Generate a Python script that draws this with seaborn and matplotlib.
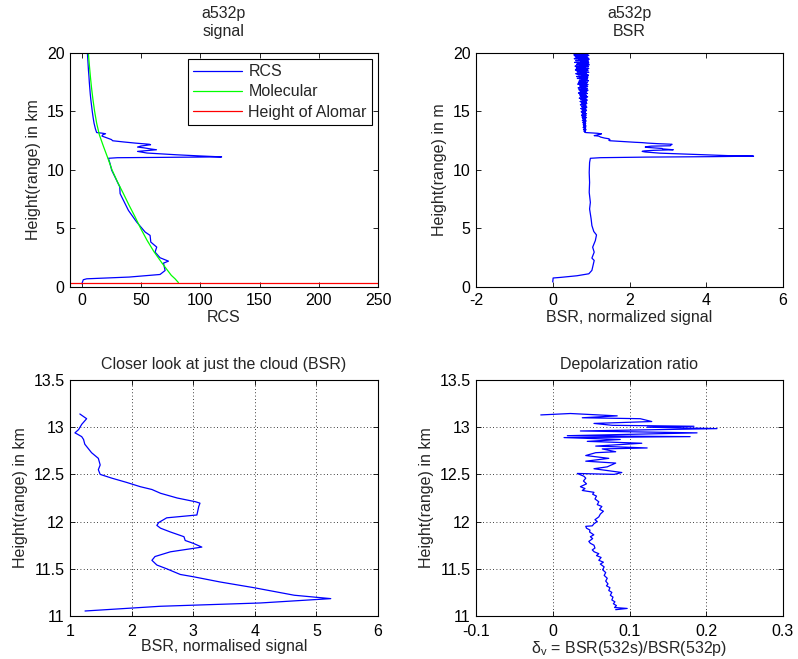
import numpy as np
import pandas as pd
import seaborn as sns
import matplotlib.pyplot as plt

# ---------------- data ----------------
# top-left: range corrected signal (RCS) vs height [km]
rcs_height = [0.27, 0.62, 0.70, 0.85, 1.07, 1.41, 2.04, 2.21, 2.50, 2.98, 3.41, 3.84, 4.41,
              4.70, 5.55, 6.55, 7.98, 8.55, 9.40, 9.98, 10.55, 11.00,
              11.05, 11.12, 11.20, 11.30, 11.45, 11.59, 11.66, 11.73, 11.80, 11.90, 11.96,
              12.05, 12.16, 12.20, 12.30, 12.40, 12.50, 12.60, 12.75, 12.90, 13.00, 13.10, 13.15,
              13.20, 13.50, 14.00, 14.50, 15.00, 15.50, 16.00, 16.50, 17.00, 17.50, 18.00,
              18.50, 19.00, 19.50, 20.00]
rcs_value = [0.0, 1.2, 4.1, 40.0, 66.0, 70.3, 68.9, 73.1, 66.0, 61.8, 63.2, 58.2, 57.6,
             53.4, 46.3, 39.3, 32.3, 32.0, 28.0, 25.2, 23.8, 22.4,
             30.0, 118.0, 100.0, 80.0, 55.0, 47.0, 55.0, 63.0, 58.0, 52.0, 47.0,
             50.0, 58.0, 57.0, 45.0, 35.0, 26.0, 25.0, 21.0, 17.0, 17.5, 20.0, 17.0,
             12.5, 11.5, 10.3, 9.5, 8.8, 8.2, 7.6, 7.1, 6.7, 6.3, 6.0,
             5.6, 5.3, 5.0, 4.7]

mol_height = [0.38, 0.7, 1, 2, 3, 4, 5, 6, 7, 8, 9, 10, 11, 12, 13, 14, 15, 16, 17, 18, 19, 20]
mol_value = [81.5, 78.7, 75.5, 68.0, 61.0, 55.0, 49.7, 44.9, 39.8, 35.0, 30.0, 25.5, 22.0,
             18.3, 14.8, 12.5, 10.8, 9.4, 8.2, 7.2, 6.3, 5.5]

alomar_height = 0.38

# top-right: BSR below the cloud
bsr_low_height = [0.43, 0.77, 0.82, 0.96, 1.13, 1.42, 1.84, 2.27, 2.47, 2.98, 3.40, 3.97, 4.45,
                  4.74, 5.25, 5.82, 6.67, 7.23, 8.09, 8.94, 9.79, 10.64, 11.00]
bsr_low_value = [0.0, 0.01, 0.2, 0.63, 0.94, 1.02, 1.05, 1.08, 1.02, 1.08, 1.04, 1.11, 1.14,
                 1.07, 1.02, 1.0, 0.96, 0.98, 0.95, 0.96, 0.95, 0.96, 0.98]

# cloud (bottom-left close-up, also part of top-right profile)
cloud_height = [11.053, 11.103, 11.138, 11.184, 11.22, 11.30, 11.36, 11.415, 11.44, 11.50, 11.54,
                11.59, 11.63, 11.68, 11.73, 11.77, 11.80, 11.84, 11.89, 11.93, 11.96, 11.99,
                12.04, 12.07, 12.16, 12.195, 12.21, 12.25, 12.30, 12.34, 12.37, 12.415, 12.46,
                12.50, 12.55, 12.60, 12.67, 12.73, 12.82, 12.87, 12.90, 12.93, 12.94, 12.975,
                13.03, 13.09, 13.14]
cloud_bsr = [1.244, 2.465, 4.09, 5.233, 4.64, 3.985, 3.44, 3.01, 2.79, 2.57, 2.41,
             2.33, 2.38, 2.63, 3.14, 3.0, 2.87, 2.85, 2.63, 2.47, 2.41, 2.44,
             2.57, 3.06, 3.09, 3.11, 3.04, 2.74, 2.47, 2.33, 2.14, 1.92, 1.68,
             1.49, 1.46, 1.49, 1.46, 1.35, 1.24, 1.22, 1.19, 1.11, 1.08, 1.14,
             1.19, 1.27, 1.16]

# top-right: noisy BSR above the cloud (13.2 - 20 km)
bsr_high_value = [0.86, 0.83, 0.85, 0.81, 0.84, 0.82, 0.87, 0.80, 0.85, 0.83,
                  0.86, 0.79, 0.84, 0.82, 0.87, 0.80, 0.83, 0.85, 0.79, 0.86,
                  0.81, 0.84, 0.78, 0.86, 0.82,
                  0.87, 0.77, 0.84, 0.80, 0.86, 0.78, 0.83, 0.88, 0.76, 0.85,
                  0.81, 0.87, 0.75, 0.84, 0.79, 0.88, 0.77, 0.85, 0.82, 0.74,
                  0.86, 0.80, 0.88, 0.76, 0.83, 0.87, 0.73, 0.85, 0.79, 0.89,
                  0.75, 0.84, 0.81, 0.87, 0.72, 0.86, 0.78, 0.89, 0.74, 0.83,
                  0.88, 0.71, 0.85, 0.79, 0.90, 0.73, 0.84, 0.87, 0.69, 0.86,
                  0.76, 0.91, 0.72, 0.83, 0.88, 0.70, 0.85, 0.78, 0.90, 0.67,
                  0.86, 0.74, 0.89, 0.71, 0.84, 0.92, 0.68, 0.87, 0.77, 0.90,
                  0.66, 0.85, 0.73, 0.91, 0.70, 0.88, 0.75, 0.92, 0.65, 0.86,
                  0.79, 0.90, 0.67, 0.84, 0.72, 0.93, 0.69, 0.87, 0.76, 0.91,
                  0.64, 0.88, 0.71, 0.92, 0.62, 0.85, 0.77, 0.93, 0.66, 0.89,
                  0.60, 0.87, 0.73, 0.94, 0.63, 0.86, 0.70, 0.92, 0.59, 0.90,
                  0.75, 0.94, 0.61, 0.85, 0.68, 0.93, 0.58, 0.89, 0.72, 0.95,
                  0.62, 0.87, 0.66, 0.94, 0.57, 0.91, 0.74, 0.93, 0.60, 0.86,
                  0.69, 0.95, 0.56, 0.90, 0.64, 0.92, 0.58, 0.88, 0.71, 0.94,
                  0.55, 0.89, 0.63, 0.93, 0.80]
bsr_high_height = np.linspace(13.2, 20.0, len(bsr_high_value))  # range gates

# bottom-right: depolarization ratio in the cloud
depol_height = [11.067, 11.08, 11.09, 11.11, 11.13, 11.15, 11.17, 11.20, 11.22, 11.25, 11.27, 11.30,
                11.32, 11.34, 11.37, 11.40, 11.43, 11.46, 11.49, 11.52, 11.55, 11.57, 11.59, 11.62,
                11.64, 11.66, 11.68, 11.70, 11.72, 11.75, 11.77, 11.79, 11.82, 11.84, 11.86, 11.89,
                11.91, 11.93, 11.95, 11.955, 11.98, 12.00, 12.02, 12.05, 12.08, 12.11, 12.13, 12.16,
                12.18, 12.21, 12.24, 12.27, 12.29, 12.31, 12.33, 12.35, 12.37, 12.40, 12.43, 12.46,
                12.48, 12.51,
                12.50, 12.52, 12.56, 12.58, 12.62, 12.64, 12.67, 12.70, 12.73, 12.74, 12.77, 12.78,
                12.80, 12.83, 12.85, 12.87, 12.89, 12.90, 12.91, 12.94, 12.96, 12.985, 13.00, 13.01,
                13.02, 13.04, 13.06, 13.09, 13.10, 13.12, 13.145, 13.13]
depol_value = [0.082, 0.097, 0.0805, 0.083, 0.079, 0.081, 0.077, 0.0785, 0.075, 0.077, 0.073, 0.0745,
               0.070, 0.072, 0.069, 0.071, 0.067, 0.069, 0.065, 0.067, 0.062, 0.066, 0.060, 0.063,
               0.057, 0.060, 0.054, 0.0515, 0.055, 0.0537, 0.049, 0.047, 0.052, 0.049, 0.0535, 0.048,
               0.0485, 0.044, 0.043, 0.0515, 0.054, 0.058, 0.055, 0.060, 0.062, 0.066, 0.061, 0.064,
               0.058, 0.060, 0.055, 0.057, 0.052, 0.0537, 0.0385, 0.042, 0.036, 0.044, 0.040, 0.043,
               0.0407, 0.032,
               0.080, 0.090, 0.0537, 0.071, 0.082, 0.043, 0.073, 0.043, 0.056, 0.082, 0.0645, 0.123,
               0.056, 0.116, 0.045, 0.088, 0.0147, 0.179, 0.019, 0.188, 0.036, 0.214, 0.123, 0.184,
               0.0775, 0.0537, 0.129, 0.114, 0.0385, 0.084, 0.023, -0.0156]

# ---------------- style ----------------
sns.set_style("ticks", {"xtick.direction": "in", "ytick.direction": "in"})
plt.rcParams["font.family"] = ["Liberation Sans", "DejaVu Sans"]
plt.rcParams["font.size"] = 11.5
plt.rcParams["axes.unicode_minus"] = False
plt.rcParams["xtick.top"] = True
plt.rcParams["ytick.right"] = True
plt.rcParams["axes.edgecolor"] = "black"
plt.rcParams["axes.linewidth"] = 0.8
plt.rcParams["xtick.color"] = "black"
plt.rcParams["ytick.color"] = "black"

fs = 11.5
fig = plt.figure(figsize=(7.98, 6.59), dpi=100)
W, H = 798, 659
ax1 = fig.add_axes([70 / W, 1 - 287 / H, 308 / W, 234 / H])
ax2 = fig.add_axes([476 / W, 1 - 287 / H, 307 / W, 234 / H])
ax3 = fig.add_axes([70 / W, 1 - 616 / H, 308 / W, 236 / H])
ax4 = fig.add_axes([476 / W, 1 - 616 / H, 307 / W, 236 / H])

lw = 0.9
blue, green, red = (0, 0, 1), (0, 1, 0), (1, 0, 0)

# panel 1
sns.lineplot(x=rcs_value, y=rcs_height, sort=False, estimator=None, color=blue, lw=lw, ax=ax1, label="RCS")
sns.lineplot(x=mol_value, y=mol_height, sort=False, estimator=None, color=green, lw=lw, ax=ax1, label="Molecular")
ax1.axhline(alomar_height, color=red, lw=lw, label="Height of Alomar")
ax1.set_xlim(-10, 250)
ax1.set_ylim(0, 20)
ax1.set_xticks([0, 50, 100, 150, 200, 250])
ax1.set_yticks([0, 5, 10, 15, 20])
ax1.set_title("a532p\nsignal", fontsize=fs, pad=12.5)
ax1.set_xlabel("RCS", fontsize=fs, labelpad=2)
ax1.set_ylabel("Height(range) in km", fontsize=fs)
leg = ax1.legend(loc="upper right", fancybox=False, edgecolor="black", framealpha=1,
                 handlelength=3.1, handletextpad=0.4, labelspacing=0.33,
                 borderaxespad=0.4, borderpad=0.3, fontsize=fs)
leg.get_frame().set_linewidth(0.8)

# panel 2
bsr_height = list(bsr_low_height) + list(cloud_height) + list(bsr_high_height)
bsr_value = list(bsr_low_value) + list(cloud_bsr) + list(bsr_high_value)
sns.lineplot(x=bsr_value, y=bsr_height, sort=False, estimator=None, color=blue, lw=lw, ax=ax2)
ax2.set_xlim(-2, 6)
ax2.set_ylim(0, 20)
ax2.set_xticks([-2, 0, 2, 4, 6])
ax2.set_yticks([0, 5, 10, 15, 20])
ax2.set_title("a532p\nBSR", fontsize=fs, pad=12.5)
ax2.set_xlabel("BSR, normalized signal", fontsize=fs, labelpad=2)
ax2.set_ylabel("Height(range) in m", fontsize=fs)

# panel 3
sns.lineplot(x=cloud_bsr, y=cloud_height, sort=False, estimator=None, color=blue, lw=lw, ax=ax3)
ax3.set_xlim(1, 6)
ax3.set_ylim(11, 13.5)
ax3.set_xticks([1, 2, 3, 4, 5, 6])
ax3.set_yticks([11, 11.5, 12, 12.5, 13, 13.5])
ax3.set_yticklabels(["11", "11.5", "12", "12.5", "13", "13.5"])
ax3.set_title("Closer look at just the cloud (BSR)", fontsize=fs, pad=8)
ax3.set_xlabel("BSR, normalised signal", fontsize=fs, labelpad=0.5)
ax3.set_ylabel("Height(range) in km", fontsize=fs)

# panel 4
sns.lineplot(x=depol_value, y=depol_height, sort=False, estimator=None, color=blue, lw=lw, ax=ax4)
ax4.set_xlim(-0.1, 0.3)
ax4.set_ylim(11, 13.5)
ax4.set_xticks([-0.1, 0, 0.1, 0.2, 0.3])
ax4.set_xticklabels(["-0.1", "0", "0.1", "0.2", "0.3"])
ax4.set_yticks([11, 11.5, 12, 12.5, 13, 13.5])
ax4.set_yticklabels(["11", "11.5", "12", "12.5", "13", "13.5"])
ax4.set_title("Depolarization ratio", fontsize=fs, pad=8)
ax4.set_xlabel(r"$\mathregular{\delta_v}$ = BSR(532s)/BSR(532p)", fontsize=fs, labelpad=0)
ax4.set_ylabel("Height(range) in km", fontsize=fs)

for ax in (ax3, ax4):
    ax.grid(True, color="black", linestyle=(0, (1, 3)), linewidth=0.6)

for ax in (ax1, ax2, ax3, ax4):
    for s in ax.spines.values():
        s.set_visible(True)
        s.set_color("black")
    ax.tick_params(axis="x", length=3.5, width=0.6, labelsize=fs, pad=4)
    ax.tick_params(axis="y", length=3.5, width=0.6, labelsize=fs, pad=4)

# bottom row tick labels sit a little lower, as in the reference
for ax in (ax3, ax4):
    ax.tick_params(axis="x", pad=5.5)

fig.savefig("out.png", dpi=100)
